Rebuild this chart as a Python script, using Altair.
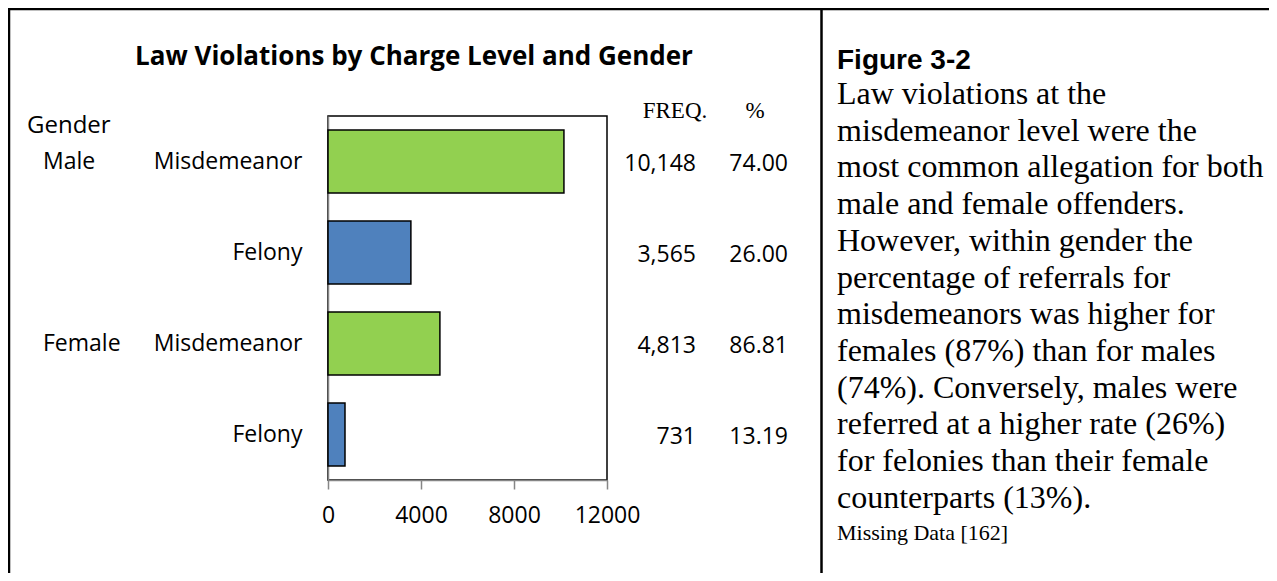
import altair as alt
import pandas as pd

# ---- data ----
genders = ["Male", "Male", "Female", "Female"]
charges = ["Misdemeanor", "Felony", "Misdemeanor", "Felony"]
freqs = [10148, 3565, 4813, 731]
pcts = [74.00, 26.00, 86.81, 13.19]
x_ticks = [0, 4000, 8000, 12000]

title_text = "Law Violations by Charge Level and Gender"
fig_label = "Figure 3-2"
body_lines = [
    "Law violations at the",
    "misdemeanor level were the",
    "most common allegation for both",
    "male and female offenders.",
    "However, within gender the",
    "percentage of referrals for",
    "misdemeanors was higher for",
    "females (87%) than for males",
    "(74%). Conversely, males were",
    "referred at a higher rate (26%)",
    "for felonies than their female",
    "counterparts (13%).",
]
missing_text = "Missing Data [162]"

df = pd.DataFrame({"gender": genders, "charge": charges, "freq": freqs, "pct": pcts})
df["row"] = df["gender"] + "|" + df["charge"]

SANS = "Open Sans"
SERIF = "Liberation Serif"
GRAY = "#868686"

y_enc = alt.Y(
    "row:N",
    sort=None,
    scale=alt.Scale(domain=list(df["row"]), paddingInner=0.31, paddingOuter=0.155),
    axis=alt.Axis(
        title=None,
        labelExpr="split(datum.label, '|')[1]",
        ticks=False,
        labelPadding=26,
        labelFont=SANS,
        labelFontSize=23,
        labelColor="black",
        domainColor=GRAY,
        domainWidth=1.5,
        grid=False,
    ),
)

x_enc = alt.X(
    "freq:Q",
    scale=alt.Scale(domain=[0, 12000], nice=False),
    axis=alt.Axis(
        values=x_ticks,
        title=None,
        grid=False,
        format="d",
        tickSize=9,
        tickColor=GRAY,
        tickWidth=1.5,
        domainColor=GRAY,
        domainWidth=1.5,
        labelFont=SANS,
        labelFontSize=23,
        labelColor="black",
        labelPadding=15,
        labelFlush=False,
        labelOverlap=False,
    ),
)

base = alt.Chart(df)

bars = base.mark_bar(stroke="black", strokeWidth=1.5).encode(
    x=x_enc,
    y=y_enc,
    color=alt.Color(
        "charge:N",
        scale=alt.Scale(domain=["Misdemeanor", "Felony"], range=["#92D050", "#4F81BD"]),
        legend=None,
    ),
)

freq_text = base.mark_text(
    align="right", baseline="middle", dy=2, font=SANS, fontSize=23, color="black"
).encode(x=alt.value(368), y=y_enc, text=alt.Text("freq:Q", format=","))

pct_text = base.mark_text(
    align="right", baseline="middle", dy=2, font=SANS, fontSize=23, color="black"
).encode(x=alt.value(460), y=y_enc, text=alt.Text("pct:Q", format=".2f"))

gender_text = base.transform_filter(alt.datum.charge == "Misdemeanor").mark_text(
    align="left", baseline="middle", font=SANS, fontSize=23, color="black"
).encode(x=alt.value(-285), y=y_enc, text="gender:N")

one = pd.DataFrame({"k": [0]})


def label(text, x, y, font, size, weight="normal", align="left", **kw):
    return alt.Chart(one).mark_text(
        text=text, align=align, baseline="alphabetic", font=font,
        fontSize=size, fontWeight=weight, color="black", **kw
    ).encode(x=alt.value(x), y=alt.value(y))


title = label(title_text, 86, -51, SANS, 26, weight="bold", align="center")
gender_hdr = label("Gender", -301, 17, SANS, 24)
freq_hdr = label("FREQ.", 347, 2, SERIF, 23, align="center")
pct_hdr = label("%", 427, 2, SERIF, 23, align="center")
fig_hdr = label(fig_label, 509, -47, "Liberation Sans", 28, weight="bold")
body = label(body_lines, 509, -12, SERIF, 32, lineHeight=36.7)
missing = label(missing_text, 509, 424, SERIF, 22)


def vrule(x, y1, y2):
    return alt.Chart(one).mark_rule(color="black", strokeWidth=2.5).encode(
        x=alt.value(x), y=alt.value(y1), y2=alt.value(y2)
    )


def hrule(y, x1, x2):
    return alt.Chart(one).mark_rule(color="black", strokeWidth=2.5).encode(
        y=alt.value(y), x=alt.value(x1), x2=alt.value(x2)
    )


borders = [
    vrule(-319, -108, 457),
    hrule(-107, -320, 941),
    vrule(493.5, -108, 457),
]

chart = alt.layer(
    bars, freq_text, pct_text, gender_text,
    title, gender_hdr, freq_hdr, pct_hdr, fig_hdr, body, missing,
    *borders,
).properties(
    width=279,
    height=364,
    padding={"left": 320, "top": 108, "right": 662, "bottom": 93},
    autosize=alt.AutoSizeParams(type="none"),
    background="white",
).configure_view(stroke="black", strokeWidth=1.5)

chart.save("out.html", embed_options={"renderer": "svg", "actions": False})
